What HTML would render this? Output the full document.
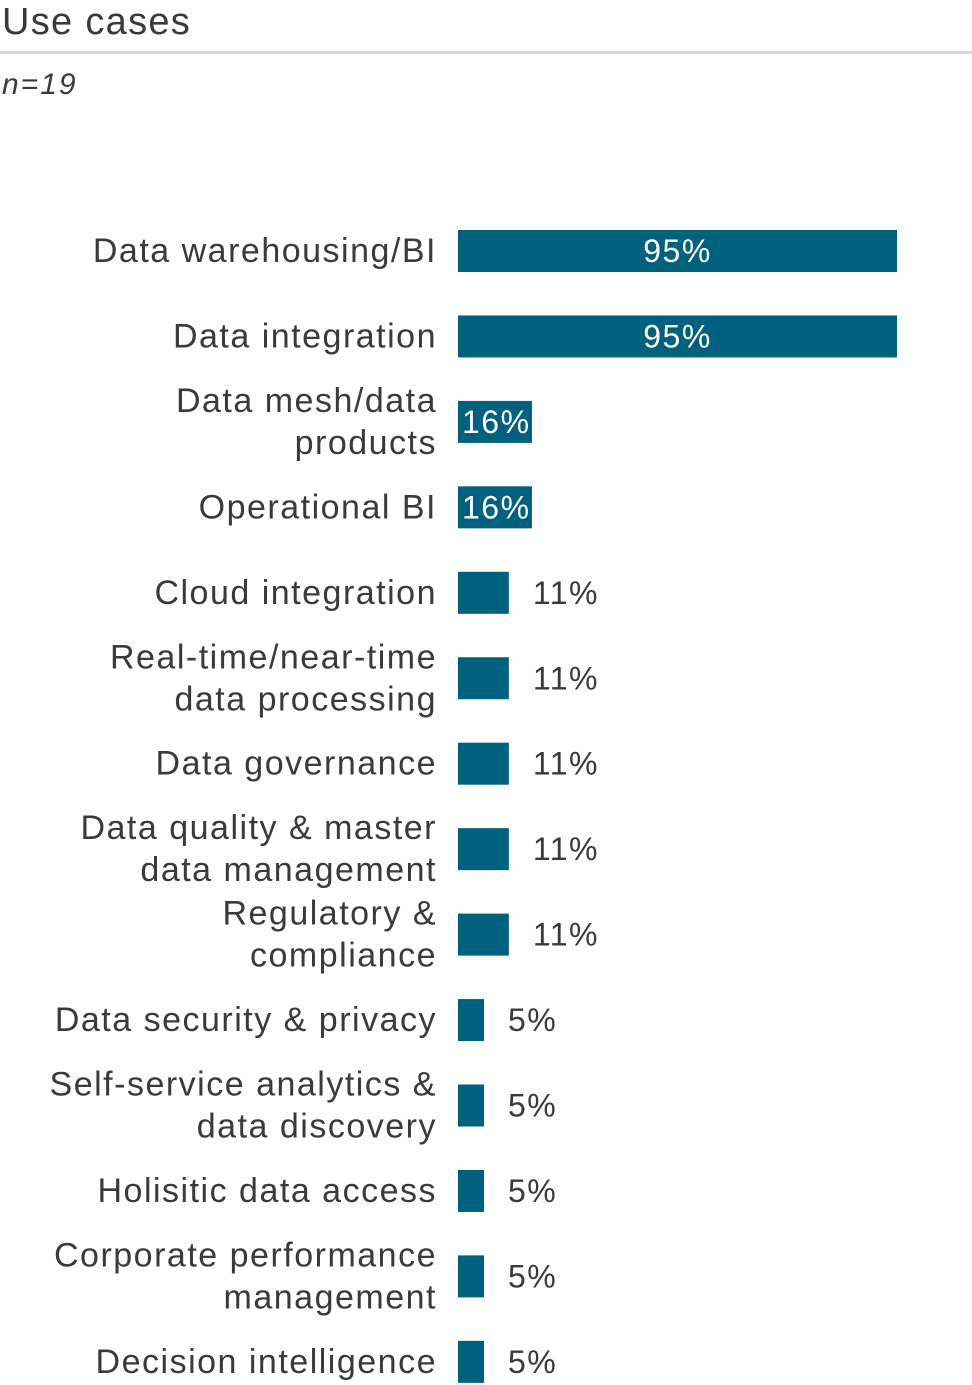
<!DOCTYPE html>
<html><head><meta charset="utf-8"><style>
body{margin:0;width:972px;height:1385px;background:#fff;font-family:"Liberation Sans",sans-serif;overflow:hidden;position:relative}
#title{position:absolute;left:2px;top:0;font-size:38px;letter-spacing:1.3px;color:#3a3a3a;line-height:44px}
#rule{position:absolute;left:0;top:51px;width:972px;height:3px;background:#d9d9d9}
#n{position:absolute;left:2px;top:68px;font-size:30px;letter-spacing:2px;font-style:italic;color:#3a3a3a}
svg{position:absolute;left:0;top:0}
</style></head><body>
<div id="title">Use cases</div>
<div id="rule"></div>
<div id="n">n=19</div>
<svg id="chart" width="972" height="1385"></svg>
<script>
const categories=[["Data warehousing/BI"],["Data integration"],["Data mesh/data","products"],["Operational BI"],["Cloud integration"],["Real-time/near-time","data processing"],["Data governance"],["Data quality & master","data management"],["Regulatory &","compliance"],["Data security & privacy"],["Self-service analytics &","data discovery"],["Holisitic data access"],["Corporate performance","management"],["Decision intelligence"]];
const values=[95,95,16,16,11,11,11,11,11,5,5,5,5,5];
const valueLabels=["95%","95%","16%","16%","11%","11%","11%","11%","11%","5%","5%","5%","5%","5%"];
const svg=document.getElementById('chart');const NS='http://www.w3.org/2000/svg';
const x0=458,scale=439/95,top0=251,step=85.45,bh=42;
function xs(v){return v*scale;}
function yc(i){return top0+i*step;}
categories.forEach((lines,i)=>{
 const y=yc(i);
 const w=Math.max(xs(values[i]),values[i]>0?26:0);
 const r=document.createElementNS(NS,'rect');
 r.setAttribute('x',x0);r.setAttribute('y',y-bh/2);r.setAttribute('width',w);r.setAttribute('height',bh);r.setAttribute('fill','#00617f');
 
 
 svg.appendChild(r);
 const t=document.createElementNS(NS,'text');
 t.setAttribute('text-anchor','end');t.setAttribute('font-size','34');t.setAttribute('letter-spacing','1.5');t.setAttribute('fill','#3a3a3a');
 
 
 lines.forEach((l,k)=>{const ts=document.createElementNS(NS,'tspan');ts.setAttribute('x',437);
  ts.setAttribute('y',y+11+(k-(lines.length-1)/2)*42);ts.textContent=l;t.appendChild(ts);});
 svg.appendChild(t);
 const v=document.createElementNS(NS,'text');
 v.setAttribute('font-size','32');v.setAttribute('letter-spacing','1.5');v.setAttribute('y',y+11);
 if(w>200){v.setAttribute('x',x0+w/2);v.setAttribute('text-anchor','middle');v.setAttribute('fill','#fff');}
 else if(w>65){v.setAttribute('x',x0+4);v.setAttribute('fill','#fff');}
 else{v.setAttribute('x',x0+w+24);v.setAttribute('fill','#3a3a3a');}
 v.textContent=valueLabels[i];
 
 
 svg.appendChild(v);
});
</script>
</body></html>
